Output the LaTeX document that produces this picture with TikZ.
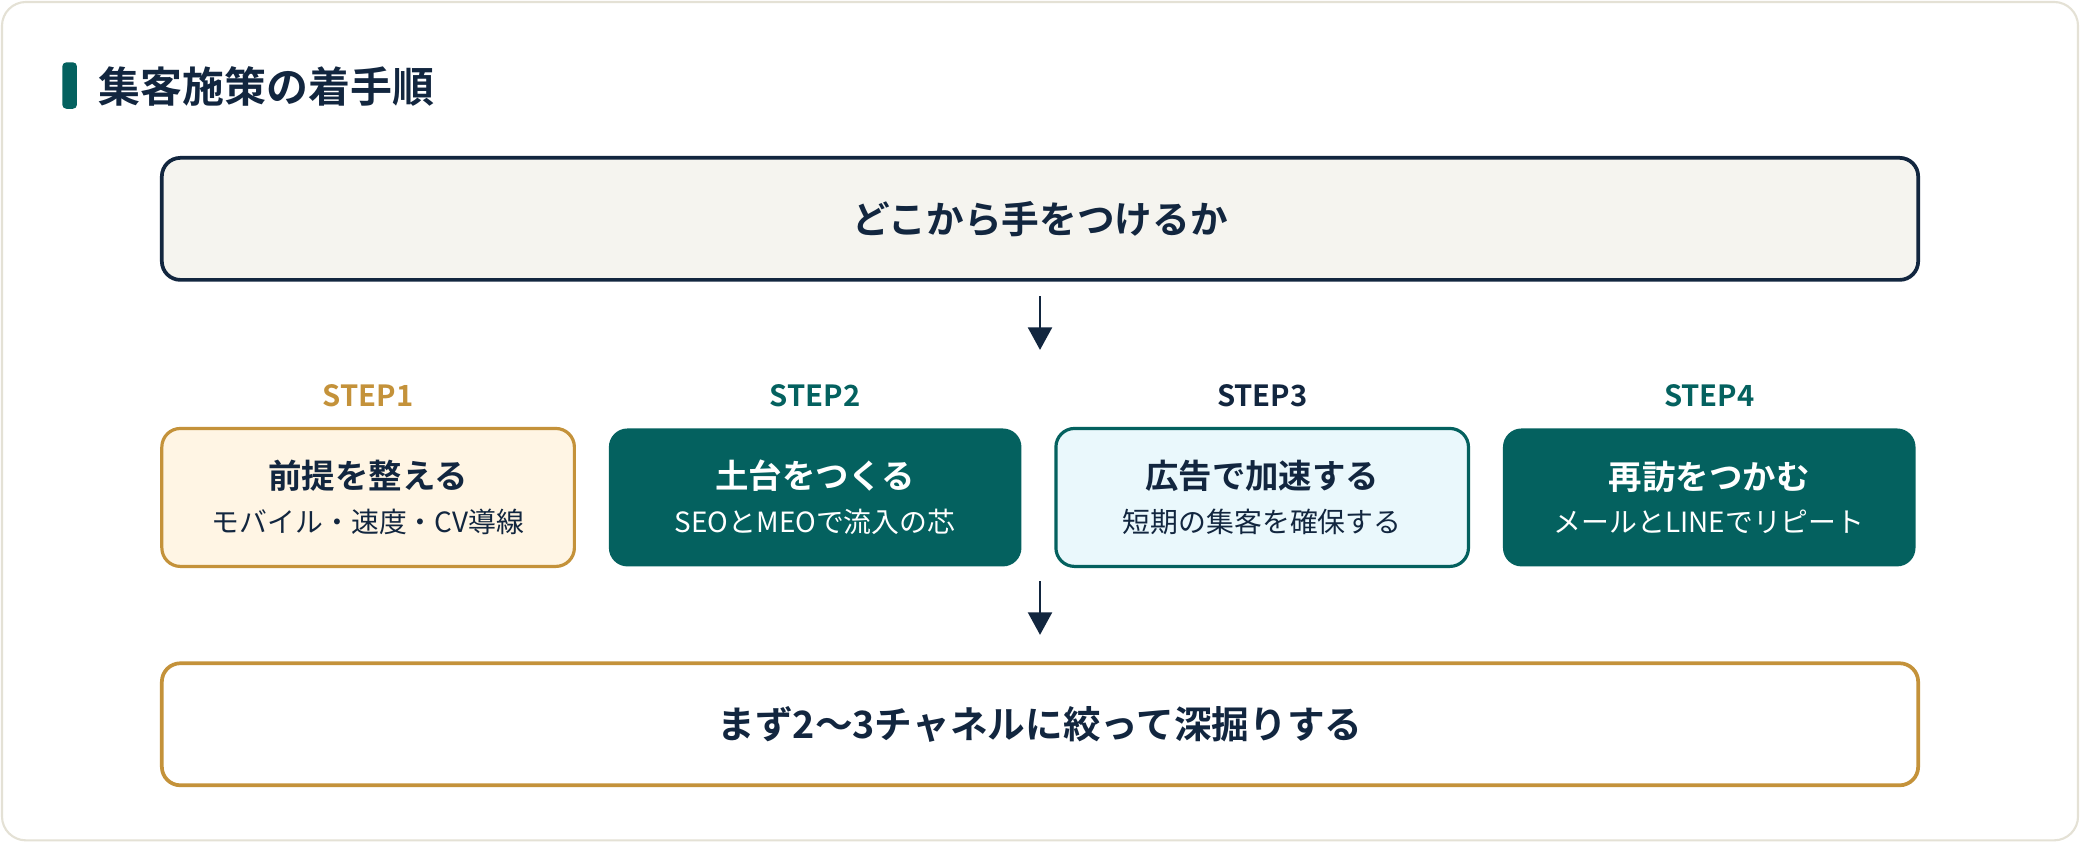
\documentclass[tikz,border=0pt]{standalone}
\usepackage{fontspec}
\setmainfont{Noto Sans CJK JP}[BoldFont={Noto Sans CJK JP Bold}]
\usetikzlibrary{positioning,calc,arrows.meta}

\definecolor{navy}{HTML}{12263F}
\definecolor{sgteal}{HTML}{04615F}
\definecolor{gold}{HTML}{C4923A}
\definecolor{frame}{HTML}{E4E1D5}
\definecolor{paper}{HTML}{F5F4EF}
\definecolor{cream}{HTML}{FFF5E4}
\definecolor{ice}{HTML}{EAF8FC}

\newcommand{\steptitle}[1]{{\bfseries\fontsize{12.6pt}{16.5pt}\selectfont #1}}

\begin{document}
\begin{tikzpicture}[x=0.5pt,y=-0.5pt,>={Triangle[width=9pt,length=8.5pt]},
  wide/.style={rounded corners=7pt,line width=1.4pt,minimum width=662pt,minimum height=46pt,
    text=navy,font=\bfseries\fontsize{14.2pt}{17pt}\selectfont},
  stepbox/.style={rounded corners=7pt,line width=1.2pt,minimum width=155.5pt,minimum height=52pt,
    align=center,text=navy,font=\fontsize{10.5pt}{16.5pt}\selectfont},
  steplabel/.style={inner sep=0pt,font=\bfseries\fontsize{11pt}{13pt}\selectfont},
  flow/.style={->,line width=1pt,draw=navy,fill=navy}]

% frame and heading
  \useasboundingbox (0,0) rectangle (1568,635);
  \draw[rounded corners=9pt,draw=frame,line width=0.8pt,fill=white] (1.5,1.5) rectangle (1566.5,633.5);
  \fill[sgteal,rounded corners=1.5pt] (47,47) rectangle (58,82);
  \node[anchor=west,inner sep=0pt,text=navy,font=\bfseries\fontsize{15.8pt}{18pt}\selectfont]
    (title) at (74,65) {集客施策の着手順};

% define the boxes
  \node[wide,draw=navy,fill=paper] (start) at (784,165) {どこから手をつけるか};
  \node[stepbox,draw=gold,fill=cream] (s1) at (277.5,375)
    {\steptitle{前提を整える}\\モバイル・速度・CV導線};
  \node[stepbox,fill=sgteal,text=white] (s2) [right=11.8pt of s1]
    {\steptitle{土台をつくる}\\SEOとMEOで流入の芯};
  \node[stepbox,draw=sgteal,fill=ice] (s3) [right=11.8pt of s2]
    {\steptitle{広告で加速する}\\短期の集客を確保する};
  \node[stepbox,fill=sgteal,text=white] (s4) [right=11.8pt of s3]
    {\steptitle{再訪をつかむ}\\メールとLINEでリピート};
  \node[wide,draw=gold,fill=white] (focus) at (784,546) {まず2〜3チャネルに絞って深掘りする};

% step labels
  \node[steplabel,text=gold]   (l1) [above=7.5pt of s1] {STEP1};
  \node[steplabel,text=sgteal] (l2) [above=7.5pt of s2] {STEP2};
  \node[steplabel,text=navy]   (l3) [above=7.5pt of s3] {STEP3};
  \node[steplabel,text=sgteal] (l4) [above=7.5pt of s4] {STEP4};

% define the links
  \draw[flow,shorten <=5.5pt,shorten >=29pt] (start.south) -- (start.south |- s2.north);
  \draw[flow,shorten <=5pt,shorten >=10pt] (start.south |- s2.south) -- (focus.north);

\end{tikzpicture}
\end{document}
